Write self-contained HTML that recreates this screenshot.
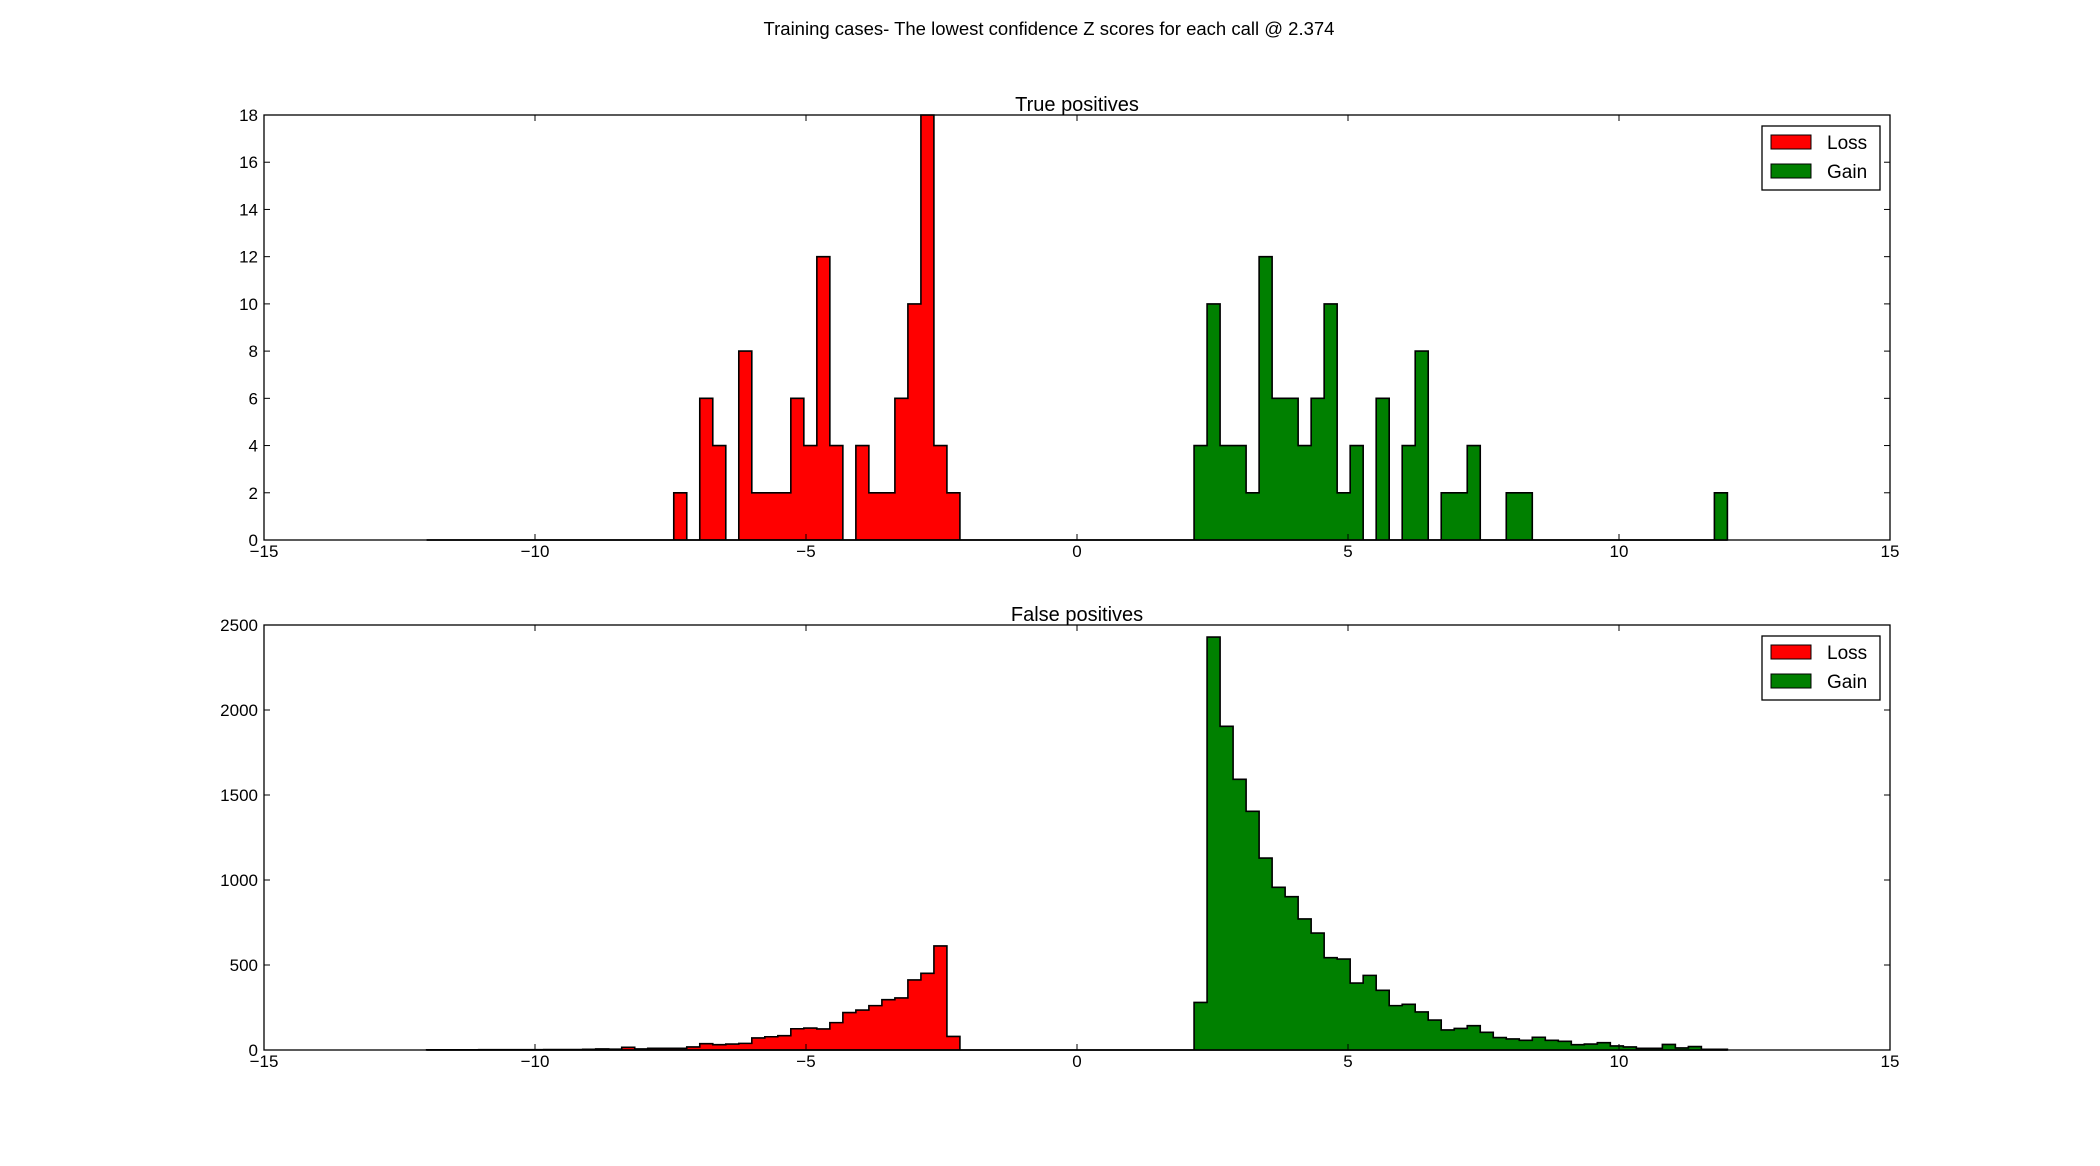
<!DOCTYPE html>
<html><head><meta charset="utf-8">
<style>
html,body{margin:0;padding:0;background:#fff;}
svg{display:block;font-family:"Liberation Sans","DejaVu Sans",sans-serif;}
</style></head>
<body>
<svg id="fig" width="2100" height="1166" viewBox="0 0 2100 1166" xmlns="http://www.w3.org/2000/svg">
<rect width="2100" height="1166" fill="#fff"/>
<text x="1049" y="35" font-size="18.5" text-anchor="middle">Training cases- The lowest confidence Z scores for each call @ 2.374</text>
</svg>
<script>
// Histogram bins: 100 bins from -12 to 12
const binStart = -12;
const binWidth = 0.24;
const xTicks = [-15, -10, -5, 0, 5, 10, 15];
const tpYTicks = [0, 2, 4, 6, 8, 10, 12, 14, 16, 18];
const fpYTicks = [0, 500, 1000, 1500, 2000, 2500];
// True positives: sparse bin index -> count
const tpLossBins = [19,21,22,24,25,26,27,28,29,30,31,33,34,35,36,37,38,39,40];
const tpLossCounts = [2,6,4,8,2,2,2,6,4,12,4,4,2,2,6,10,18,4,2];
const tpGainBins = [59,60,61,62,63,64,65,66,67,68,69,70,71,73,75,76,78,79,80,83,84,99];
const tpGainCounts = [4,10,4,4,2,12,6,6,4,6,10,2,4,6,4,8,2,2,4,2,2,2];
// False positives
const fpLossBins = [0,1,2,3,4,5,6,7,8,9,10,11,12,13,14,15,16,17,18,19,20,21,22,23,24,25,26,27,28,29,30,31,32,33,34,35,36,37,38,39,40];
const fpLossCounts = [1,1,1,1,2,2,2,2,2,3,3,3,4,6,5,16,6,10,10,10,18,37,31,35,39,71,78,84,125,129,124,161,220,235,261,296,306,412,451,612,80];
const fpGainBins = [59,60,61,62,63,64,65,66,67,68,69,70,71,72,73,74,75,76,77,78,79,80,81,82,83,84,85,86,87,88,89,90,91,92,93,94,95,96,97,98,99];
const fpGainCounts = [280,2429,1904,1592,1404,1129,957,902,771,688,543,535,394,439,351,261,269,224,176,118,127,143,104,73,65,57,75,57,51,31,35,43,24,18,10,10,33,12,20,4,4];

const NS = "http://www.w3.org/2000/svg";
const svg = document.getElementById('fig');
function mk(tag, attrs, parent) {
  const e = document.createElementNS(NS, tag);
  for (const k in attrs) e.setAttribute(k, attrs[k]);
  (parent || svg).appendChild(e);
  return e;
}
function dense(bins, counts) {
  const a = new Array(100).fill(0);
  bins.forEach((b, i) => { a[b] = counts[i]; });
  return a;
}
function panel(cfg) {
  const L = 264, R = 1890, T = cfg.top, B = cfg.top + 425;
  const xs = v => L + (v - (-15)) / 30 * (R - L);
  const ys = v => B - v / cfg.ymax * (B - T);
  const g = mk('g', {});
  
  
  function drawHist(arr, color, sname) {
    let d = 'M' + xs(binStart) + ' ' + ys(0);
    for (let i = 0; i < arr.length; i++) {
      const x0 = xs(binStart + i * binWidth), x1 = xs(binStart + (i + 1) * binWidth);
      d += ' L' + x0 + ' ' + ys(arr[i]) + ' L' + x1 + ' ' + ys(arr[i]);
    }
    d += ' L' + xs(binStart + arr.length * binWidth) + ' ' + ys(0) + ' Z';
    const p = mk('path', { d: d, fill: color, stroke: '#000', 'stroke-width': 1.6, 'stroke-linejoin': 'miter' }, g);
    
    
  }
  drawHist(dense(cfg.lossBins, cfg.lossCounts), '#ff0000', cfg.name + '-loss-series');
  drawHist(dense(cfg.gainBins, cfg.gainCounts), '#008000', cfg.name + '-gain-series');
  const frame = mk('rect', { x: L, y: T, width: R - L, height: B - T, fill: 'none', stroke: '#000', 'stroke-width': 1.3 }, g);
  
  
  xTicks.forEach(t => {
    const x = xs(t);
    mk('line', { x1: x, x2: x, y1: B, y2: B - 6, stroke: '#000' }, g);
    mk('line', { x1: x, x2: x, y1: T, y2: T + 6, stroke: '#000' }, g);
    const tx = mk('text', { x: x, y: B + 17, 'font-size': 17, 'text-anchor': 'middle' }, g);
    tx.textContent = t < 0 ? '\u2212' + Math.abs(t) : String(t);
    
    
  });
  cfg.yTicks.forEach(t => {
    const y = ys(t);
    mk('line', { x1: L, x2: L + 6, y1: y, y2: y, stroke: '#000' }, g);
    mk('line', { x1: R, x2: R - 6, y1: y, y2: y, stroke: '#000' }, g);
    const ty = mk('text', { x: L - 6, y: y + 6, 'font-size': 17, 'text-anchor': 'end' }, g);
    ty.textContent = String(t);
    
    
  });
  const title = mk('text', { x: (L + R) / 2, y: T - 4, 'font-size': 20, 'text-anchor': 'middle' }, g);
  title.textContent = cfg.title;
  
  
  const lg = mk('g', {}, g);
  
  
  mk('rect', { x: 1762, y: T + 11, width: 118, height: 64, fill: '#fff', stroke: '#000', 'stroke-width': 1.3 }, lg);
  [['Loss', '#ff0000', 0], ['Gain', '#008000', 1]].forEach(([lab, col, i]) => {
    const ent = mk('g', {}, lg);
    
    
    mk('rect', { x: 1771, y: T + 20 + i * 29, width: 40, height: 14, fill: col, stroke: '#000', 'stroke-width': 1 }, ent);
    const lt = mk('text', { x: 1827, y: T + 34 + i * 29, 'font-size': 19 }, ent);
    lt.textContent = lab;
  });
}
panel({ name: 'true-positives-panel', title: 'True positives', top: 115, ymax: 18, yTicks: tpYTicks,
  lossBins: tpLossBins, lossCounts: tpLossCounts, gainBins: tpGainBins, gainCounts: tpGainCounts });
panel({ name: 'false-positives-panel', title: 'False positives', top: 625, ymax: 2500, yTicks: fpYTicks,
  lossBins: fpLossBins, lossCounts: fpLossCounts, gainBins: fpGainBins, gainCounts: fpGainCounts });
</script>
</body></html>
